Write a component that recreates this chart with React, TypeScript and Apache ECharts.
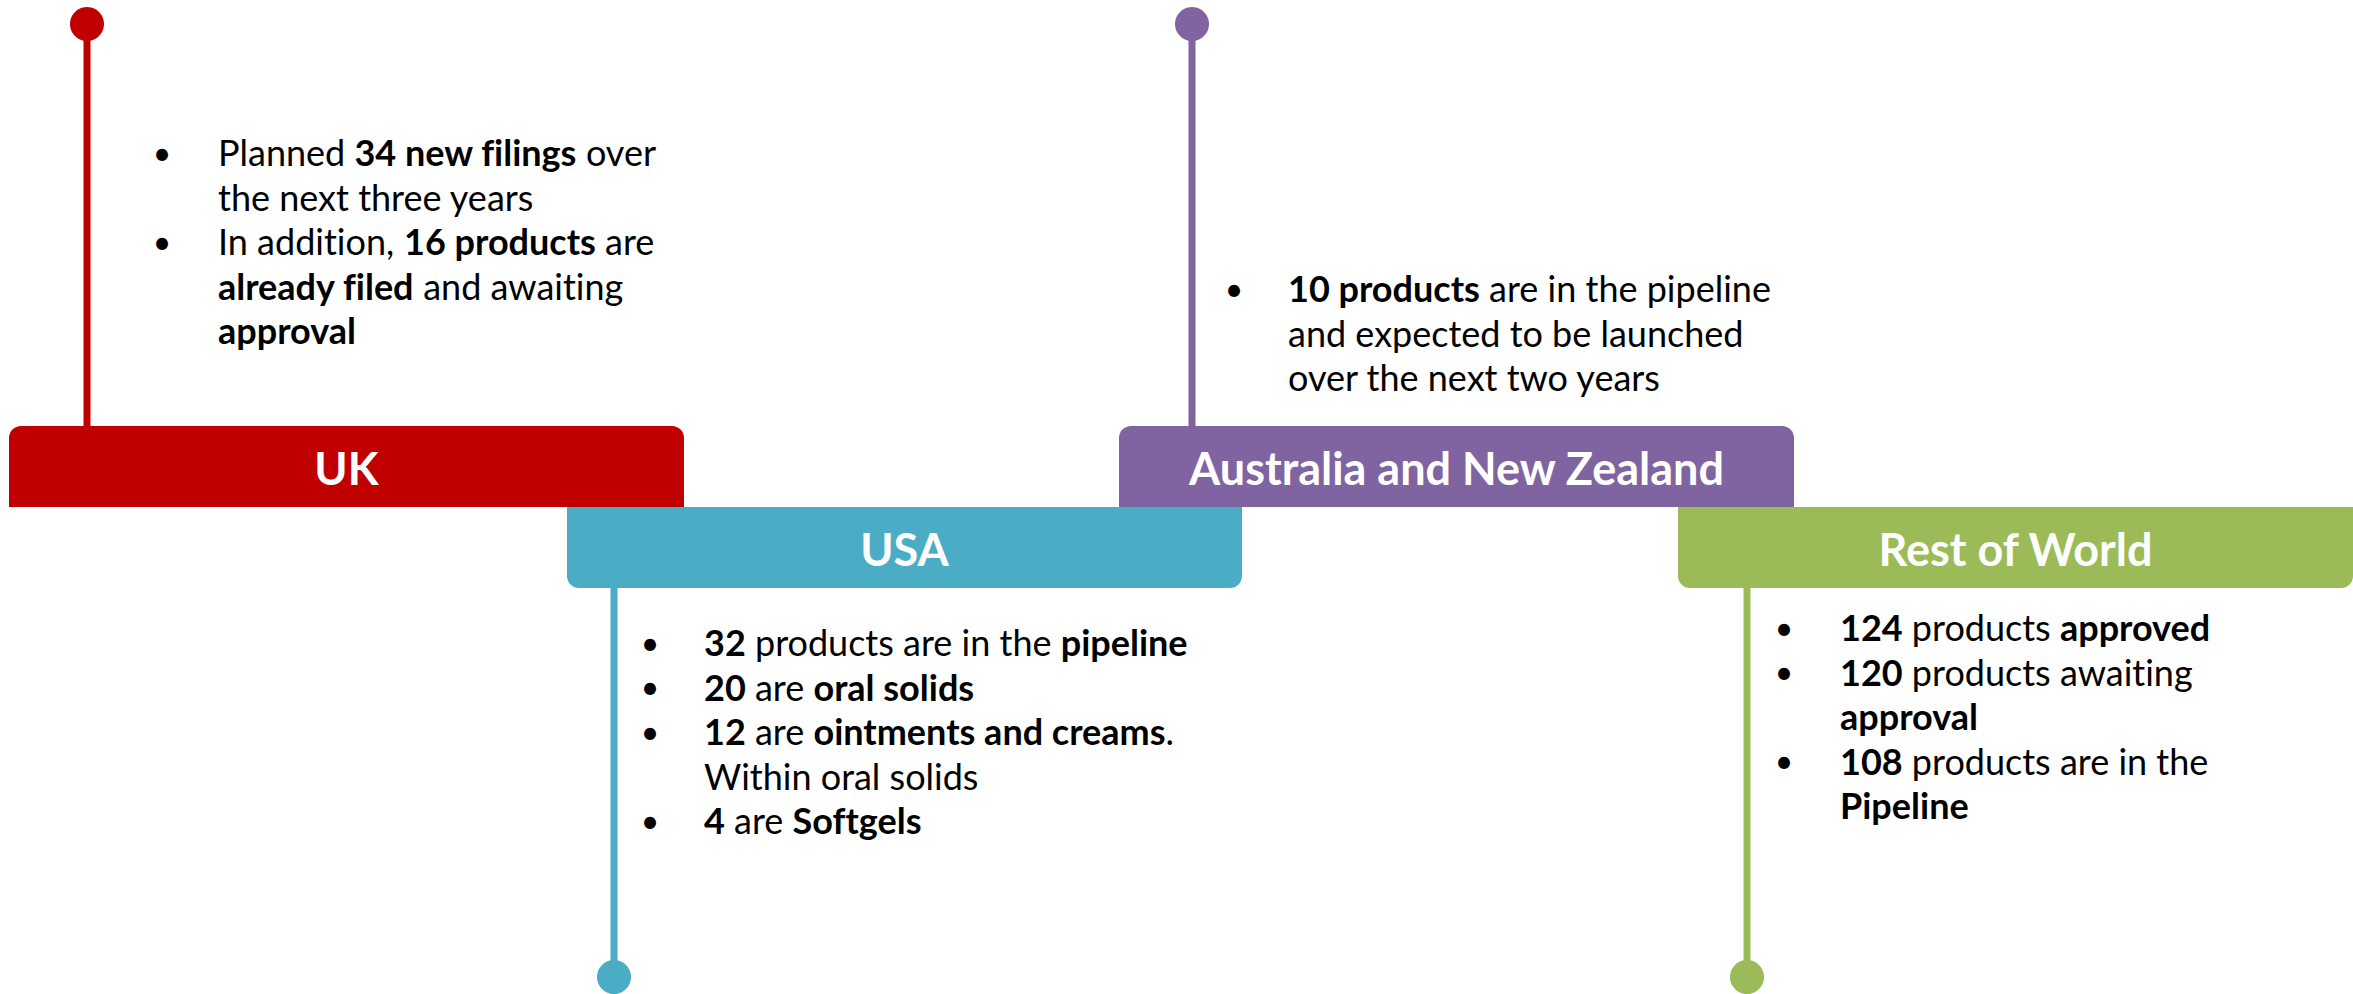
import React, { useEffect, useRef } from "react";
import * as echarts from "echarts";

// ---- content ----
const regions = ["UK", "USA", "Australia and New Zealand", "Rest of World"];
const regionColors = ["#C00000", "#4BACC6", "#8064A2", "#9BBB59"];

const ukBullets = [
  ["Planned {b|34 new filings} over", "the next three years"],
  ["In addition, {b|16 products} are", "{b|already filed} and awaiting", "{b|approval}"],
];
const usaBullets = [
  ["{b|32} products are in the {b|pipeline}"],
  ["{b|20} are {b|oral solids}"],
  ["{b|12} are {b|ointments and creams}.", "Within oral solids"],
  ["{b|4} are {b|Softgels}"],
];
const anzBullets = [
  ["{b|10 products} are in the pipeline", "and expected to be launched", "over the next two years"],
];
const rowBullets = [
  ["{b|124} products {b|approved}"],
  ["{b|120} products awaiting", "{b|approval}"],
  ["{b|108} products are in the", "{b|Pipeline}"],
];
const regionBullets = [ukBullets, usaBullets, anzBullets, rowBullets];

const FONT = "Lato, 'Open Sans', sans-serif";

export default function App() {
  const ref = useRef<HTMLDivElement>(null);
  useEffect(() => {
    if (!ref.current) return;
    const chart = echarts.init(ref.current, null, { renderer: "svg" });

    // layout per region
    const layout = [
      { bx: 9, by: 426, top: true, lx: 87, cy: 24, bulletX: 162, textX: 218, firstY: 152 },
      { bx: 567, by: 507, top: false, lx: 614, cy: 977, bulletX: 650, textX: 704, firstY: 642 },
      { bx: 1119, by: 426, top: true, lx: 1192, cy: 24, bulletX: 1234, textX: 1288, firstY: 288 },
      { bx: 1678, by: 507, top: false, lx: 1747, cy: 977, bulletX: 1784, textX: 1840, firstY: 627 },
    ];
    const BW = 675, BH = 81, LH = 44.6, FS = 36;

    const elements: any[] = [];
    regions.forEach((name, i) => {
      const L = layout[i];
      const color = regionColors[i];
      const y1 = L.cy;
      const y2 = L.top ? L.by + 2 : L.by + BH - 2;
      elements.push({
        type: "line",
        shape: { x1: L.lx, y1, x2: L.lx, y2 },
        style: { stroke: color, lineWidth: 7 },
        z: 1,
      });
      elements.push({
        type: "circle",
        shape: { cx: L.lx, cy: L.cy, r: 17 },
        style: { fill: color },
        z: 2,
      });
      elements.push({
        type: "rect",
        shape: { x: L.bx, y: L.by, width: BW, height: BH, r: L.top ? [12, 12, 0, 0] : [0, 0, 12, 12] },
        style: { fill: color },
        z: 3,
      });
      elements.push({
        type: "text",
        style: {
          text: name,
          x: L.bx + BW / 2,
          y: L.by + BH / 2 + 1,
          align: "center",
          verticalAlign: "middle",
          fill: "#fff",
          fontFamily: FONT,
          fontWeight: "bold",
          fontSize: 45,
        },
        z: 4,
      });
      let row = 0;
      regionBullets[i].forEach((bullet) => {
        bullet.forEach((line, k) => {
          const y = L.firstY + row * LH;
          if (k === 0) {
            elements.push({
              type: "text",
              style: {
                text: "•",
                x: L.bulletX,
                y,
                align: "center",
                verticalAlign: "middle",
                fill: "#000",
                fontFamily: FONT,
                fontSize: 32,
              },
              z: 4,
            });
          }
          elements.push({
            type: "text",
            style: {
              text: line,
              x: L.textX,
              y,
              align: "left",
              verticalAlign: "middle",
              fill: "#000",
              fontFamily: FONT,
              fontSize: FS,
              rich: {
                b: { fontFamily: FONT, fontSize: FS, fontWeight: "bold", fill: "#000" },
              },
            },
            z: 4,
          });
          row++;
        });
      });
    });

    chart.setOption({
      animation: false,
      backgroundColor: "#ffffff",
      graphic: { elements },
    });
    return () => chart.dispose();
  }, []);
  return (
    <>
      <style>{`svg text, svg tspan { font-variant-ligatures: none !important; font-feature-settings: "liga" 0, "clig" 0 !important; }`}</style>
      <div
        ref={ref}
        style={{ position: "fixed", left: 0, top: 0, width: 2353, height: 994, background: "#fff" }}
      />
    </>
  );
}
